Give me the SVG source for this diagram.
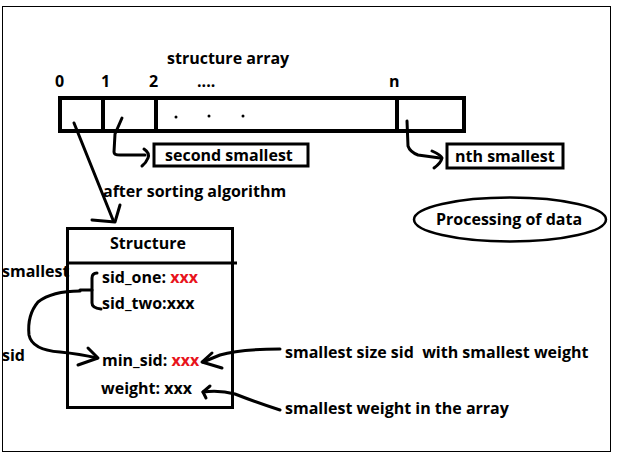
<svg xmlns="http://www.w3.org/2000/svg" width="618" height="458" viewBox="0 0 618 458">
<style>
text{font-family:"Open Sans","DejaVu Sans",sans-serif;font-weight:bold;font-size:16px;fill:#000}
.red{fill:#e8141c}
.box{fill:none;stroke:#000}
.ln{fill:none;stroke:#000;stroke-width:3;stroke-linecap:round;stroke-linejoin:round}
</style>
<rect width="618" height="458" fill="#fff"/>
<rect x="2.5" y="6.5" width="608" height="445" fill="none" stroke="#000" stroke-width="1"/>
<g id="title"><text x="167" y="64">structure array</text></g>
<g id="indices">
<text x="55" y="87">0</text>
<text x="101" y="87">1</text>
<text x="149" y="87">2</text>
<text x="197" y="87">....</text>
<text x="389" y="87">n</text>
</g>
<g id="array">
<rect class="box" x="60" y="98" width="404" height="33" stroke-width="4"/>
<line x1="103" y1="98" x2="103" y2="131" stroke="#000" stroke-width="4"/>
<line x1="156" y1="98" x2="156" y2="131" stroke="#000" stroke-width="4"/>
<line x1="397" y1="98" x2="397" y2="131" stroke="#000" stroke-width="4"/>
<circle cx="176" cy="117" r="1.5"/>
<circle cx="209" cy="116" r="1.5"/>
<circle cx="243" cy="116" r="1.5"/>
</g>
<g id="second-smallest">
<rect class="box" x="154" y="144" width="154" height="22" stroke-width="3"/>
<text x="165" y="161">second smallest</text>
</g>
<g id="nth-smallest">
<rect class="box" x="447" y="144" width="116" height="24" stroke-width="3"/>
<text x="455" y="162">nth smallest</text>
</g>
<g id="after-sorting"><text x="103" y="197">after sorting algorithm</text></g>
<g id="processing">
<ellipse cx="510" cy="219.5" rx="96" ry="22" fill="none" stroke="#000" stroke-width="2.5"/>
<text x="436" y="225">Processing of data</text>
</g>
<g id="structure">
<rect class="box" x="67.5" y="228.5" width="165" height="179" stroke-width="3"/>
<line x1="67" y1="263" x2="237" y2="263" stroke="#000" stroke-width="3"/>
<text x="110" y="249">Structure</text>
<text x="102" y="283">sid_one: <tspan class="red">xxx</tspan></text>
<text x="102" y="309">sid_two:xxx</text>
<text x="102" y="366">min_sid: <tspan class="red">xxx</tspan></text>
<text x="101" y="394">weight: xxx</text>
</g>
<g id="side-labels">
<text x="2" y="277">smallest</text>
<text x="2" y="361">sid</text>
</g>
<g id="notes">
<text x="285" y="358" xml:space="preserve">smallest size sid  with smallest weight</text>
<text x="285" y="414">smallest weight in the array</text>
</g>
<g id="connectors">
<path class="ln" d="M122,118 L115,134 L114,152 Q114,155 120,155 L145,155"/>
<path class="ln" d="M144,149 Q150,153 148,158 Q146,163 142,166"/>
<path class="ln" d="M407,121 L408,146 Q410,152 418,155 L440,158"/>
<path class="ln" d="M432,151 Q441,155 442,158 Q441,163 434,168"/>
<path class="ln" d="M74,123 L113,220"/>
<path class="ln" d="M92,220 L115,222 L120,205"/>
<path class="ln" d="M97,273 Q92,273 92,278 L92,303 Q92,308 101,309"/>
<path class="ln" d="M92,290 L80,290"/>
<path class="ln" d="M80,291 Q52,291 38,302 Q27,315 29,335 Q32,350 60,352 Q80,354 97,358"/>
<path class="ln" d="M88,348 L98,358 L78,365"/>
<path class="ln" d="M280,349 Q240,349 220,355 L203,362"/>
<path class="ln" d="M212,353 L202,362 L222,368"/>
<path class="ln" d="M280,410 Q258,403 235,394 Q220,390 203,392"/>
<path class="ln" d="M210,386 L203,392 L206,398"/>
</g>
</svg>
